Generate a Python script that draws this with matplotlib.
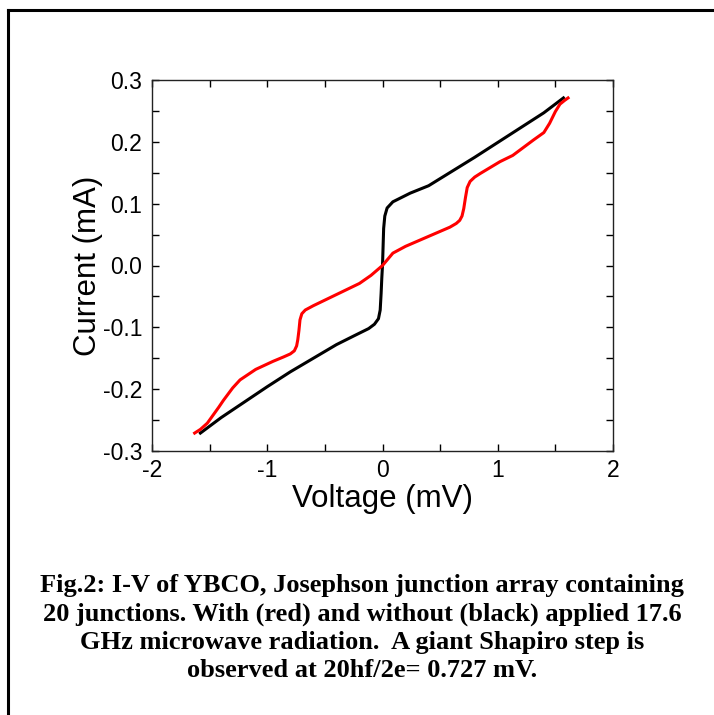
import matplotlib
matplotlib.use("Agg")
import matplotlib.pyplot as plt
from matplotlib.lines import Line2D
from matplotlib.ticker import MultipleLocator

# Without microwave radiation (black)
v_black = [-1.58, -1.4, -1.2, -1.0, -0.8, -0.6, -0.4, -0.25, -0.12, -0.07, -0.035, -0.02, -0.012,
           -0.006, 0.0, 0.005, 0.01, 0.02, 0.04, 0.09, 0.24, 0.4, 0.6, 0.8, 1.0, 1.2, 1.4, 1.57]
i_black = [-0.271, -0.246, -0.221, -0.196, -0.172, -0.150, -0.128, -0.114, -0.102, -0.095, -0.086,
           -0.072, -0.045, -0.02, 0.0, 0.03, 0.06, 0.08, 0.093, 0.103, 0.117, 0.129, 0.152, 0.175,
           0.199, 0.223, 0.247, 0.271]

# With 17.6 GHz microwave radiation (red)
v_red = [-1.63, -1.58, -1.52, -1.47, -1.42, -1.38, -1.3, -1.236, -1.1, -0.95, -0.86, -0.8, -0.765,
         -0.745, -0.735, -0.725, -0.716, -0.7, -0.67, -0.6, -0.4, -0.2, -0.1, 0.0, 0.09, 0.2,
         0.386, 0.585, 0.64, 0.67, 0.69, 0.705, 0.72, 0.735, 0.76, 0.8, 0.85, 1.02, 1.13, 1.31,
         1.4, 1.45, 1.5, 1.54, 1.58, 1.61]
i_red = [-0.271, -0.265, -0.255, -0.242, -0.229, -0.218, -0.198, -0.185, -0.168, -0.155, -0.148,
         -0.143, -0.138, -0.130, -0.120, -0.105, -0.088, -0.078, -0.072, -0.065, -0.047, -0.029,
         -0.016, 0.0, 0.02, 0.031, 0.046, 0.062, 0.068, 0.073, 0.080, 0.092, 0.110, 0.126, 0.136,
         0.143, 0.149, 0.168, 0.178, 0.203, 0.215, 0.230, 0.249, 0.261, 0.267, 0.271]

x_ticks = [-2, -1, 0, 1, 2]
y_ticks = [-0.3, -0.2, -0.1, 0.0, 0.1, 0.2, 0.3]
x_label = "Voltage (mV)"
y_label = "Current (mA)"
caption = ("Fig.2: I-V of YBCO, Josephson junction array containing\n"
           "20 junctions. With (red) and without (black) applied 17.6\n"
           "GHz microwave radiation.  A giant Shapiro step is\n"
           "observed at 20hf/2e= 0.727 mV.")

plt.rcParams['font.family'] = ['Liberation Sans', 'DejaVu Sans']

fig = plt.figure(figsize=(7.14, 7.15), dpi=100)
ax = fig.add_axes([152/714, 1-451/715, (613-152)/714, (451-80)/715])

ax.plot(v_black, i_black, color='black', lw=2.2)
ax.plot(v_red, i_red, color='#ff0000', lw=2.2)

ax.set_xlim(-2, 2)
ax.set_ylim(-0.3, 0.3)
ax.set_xticks(x_ticks)
ax.set_xticklabels([f"{t:d}" for t in x_ticks])
ax.set_yticks(y_ticks)
ax.set_yticklabels([f"{t:.1f}" for t in y_ticks])
ax.xaxis.set_minor_locator(MultipleLocator(0.5))
ax.yaxis.set_minor_locator(MultipleLocator(0.05))
ax.tick_params(which='both', direction='in', top=True, right=True, length=5, width=1.0,
               labelsize=16.5)
ax.tick_params(axis='y', pad=7)
ax.tick_params(axis='x', pad=6)
for s in ax.spines.values():
    s.set_linewidth(1.0)
    s.set_color('#222222')
ax.set_xlabel(x_label, fontsize=22.5, labelpad=1)
ax.set_ylabel(y_label, fontsize=22.5, labelpad=0)

# frame
fig.add_artist(Line2D([8/714, 8/714], [0, 1-10/715], transform=fig.transFigure, color='black', lw=2.2))
fig.add_artist(Line2D([8/714, 1], [1-10/715, 1-10/715], transform=fig.transFigure, color='black', lw=2.2))

fig.text(362/714, 1-628/715, caption, ha='center', va='center', fontsize=19,
         family='Liberation Serif', weight='bold', linespacing=1.3)

fig.savefig("out.png", dpi=100)
